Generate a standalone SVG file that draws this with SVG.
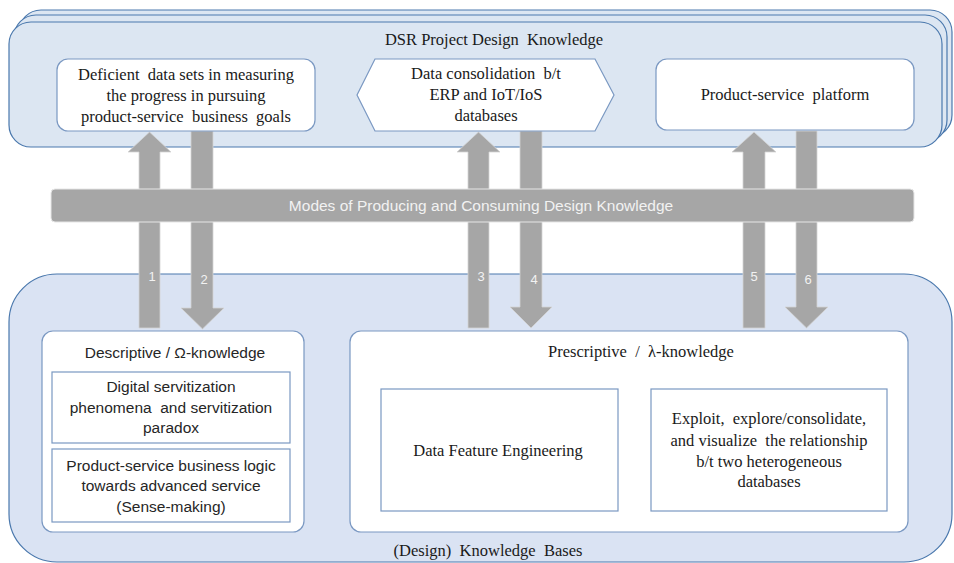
<svg xmlns="http://www.w3.org/2000/svg" width="954" height="563" viewBox="0 0 954 563">
<style>
.cont{fill:#dce6f2;stroke:#4a78ad;stroke-width:1.2}
.bot{fill:#dae3f3;stroke:#4a78ad;stroke-width:1.2}
.box{fill:#ffffff;stroke:#7a98c2;stroke-width:1.2}
.arr{fill:#a6a6a6;stroke:#d4d4d4;stroke-width:0.8}
text{white-space:pre}
.ser{font-family:"Liberation Serif","Times New Roman",serif;font-size:16.5px;fill:#1a1a1a;text-anchor:middle}
.san{font-family:"Liberation Sans",Arial,sans-serif;font-size:15.5px;fill:#262626;text-anchor:middle}
.num{font-family:"Liberation Sans",Arial,sans-serif;font-size:13px;fill:#f2f2f2;text-anchor:middle}
.band{font-family:"Liberation Sans",Arial,sans-serif;font-size:15.5px;fill:#f2f2f2;text-anchor:middle}
</style>
<rect width="954" height="563" fill="#ffffff"/>
<g id="dsr-project">
<rect class="cont" x="19" y="10" width="933" height="127" rx="22"/>
<rect class="cont" x="14" y="15" width="933" height="127" rx="22"/>
<rect class="cont" x="9" y="22" width="933" height="125" rx="22"/>
<text class="ser" x="494" y="45">DSR Project Design  Knowledge</text>
</g>
<g id="knowledge-bases">
<rect class="bot" x="9" y="274" width="943" height="288" rx="48"/>
<text class="ser" x="488" y="556">(Design)  Knowledge  Bases</text>
</g>
<g id="connectors">
<polygon class="arr" points="139,328 139,152 128,152 149.5,132 171,152 160,152 160,328"/>
<polygon class="arr" points="191,131 191,308 181,308 202.5,329 224,308 213,308 213,131"/>
<polygon class="arr" points="468,328 468,152 457,152 478.5,132 500,152 489,152 489,328"/>
<polygon class="arr" points="520,131 520,307 510,307 531,328 552,307 542,307 542,131"/>
<polygon class="arr" points="743,328 743,152 732,152 754,132 776,152 765,152 765,328"/>
<polygon class="arr" points="796,131 796,307 785,307 806.5,328 828,307 817,307 817,131"/>
<text class="num" x="152" y="281">1</text>
<text class="num" x="204" y="284">2</text>
<text class="num" x="481" y="281">3</text>
<text class="num" x="534" y="284">4</text>
<text class="num" x="754" y="281">5</text>
<text class="num" x="808" y="284">6</text>
</g>
<g id="modes-band">
<rect x="51" y="189" width="863" height="33" rx="4" fill="#a6a6a6" stroke="#e6e6e6" stroke-width="1"/>
<text class="band" x="481" y="211">Modes of Producing and Consuming Design Knowledge</text>
</g>
<g id="deficient-data">
<rect class="box" x="57" y="59" width="258" height="72" rx="11"/>
<text class="ser" x="186" y="80">Deficient  data sets in measuring</text>
<text class="ser" x="186" y="101">the progress in pursuing</text>
<text class="ser" x="186" y="122">product-service  business  goals</text>
</g>
<g id="data-consolidation">
<polygon class="box" points="375,59 595,59 614,95 595,131 375,131 357,95"/>
<text class="ser" x="486" y="79">Data consolidation  b/t</text>
<text class="ser" x="486" y="100">ERP and IoT/IoS</text>
<text class="ser" x="486" y="121">databases</text>
</g>
<g id="platform">
<rect class="box" x="656" y="59" width="258" height="71" rx="11"/>
<text class="ser" x="785" y="100">Product-service  platform</text>
</g>
<g id="descriptive">
<rect class="box" x="42" y="331" width="262" height="201" rx="11"/>
<text class="san" x="175" y="358">Descriptive / Ω-knowledge</text>
</g>
<g id="digital-servitization">
<rect class="box" x="52" y="372" width="238" height="71"/>
<text class="san" x="171" y="392">Digital servitization</text>
<text class="san" x="171" y="413">phenomena  and servitization</text>
<text class="san" x="171" y="433">paradox</text>
</g>
<g id="business-logic">
<rect class="box" x="52" y="449" width="238" height="73"/>
<text class="san" x="171" y="471">Product-service business logic</text>
<text class="san" x="171" y="491">towards advanced service</text>
<text class="san" x="171" y="512">(Sense-making)</text>
</g>
<g id="prescriptive">
<rect class="box" x="350" y="331" width="558" height="201" rx="11"/>
<text class="ser" x="641" y="357">Prescriptive  /  λ-knowledge</text>
</g>
<g id="feature-engineering">
<rect class="box" x="381" y="389" width="237" height="122"/>
<text class="ser" x="498" y="456">Data Feature Engineering</text>
</g>
<g id="exploit">
<rect class="box" x="651" y="389" width="236" height="122"/>
<text class="ser" x="769" y="424">Exploit,  explore/consolidate,</text>
<text class="ser" x="769" y="446">and visualize  the relationship</text>
<text class="ser" x="769" y="467">b/t two heterogeneous</text>
<text class="ser" x="769" y="487">databases</text>
</g>
</svg>
